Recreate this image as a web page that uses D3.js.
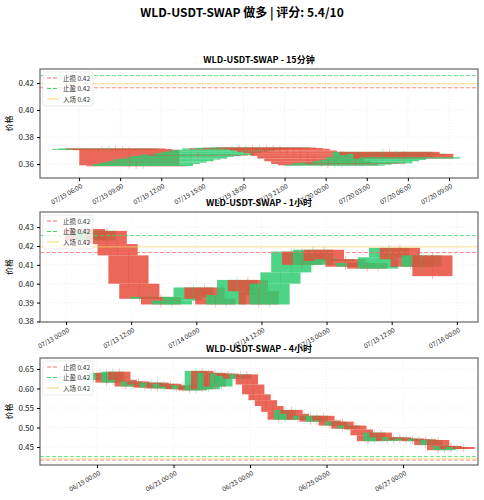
<!DOCTYPE html>
<html>
<head>
<meta charset="utf-8">
<script src="https://d3js.org/d3.v7.min.js"></script>
<style>body{margin:0;background:#fff}text{font-family:"Noto Sans CJK SC","DejaVu Sans",sans-serif}</style>
</head>
<body>
<script>
// price levels
var stopLoss = 0.4165, takeProfit = 0.4255, entry = 0.4195;
var legendLabels = ["止损 0.42", "止盈 0.42", "入场 0.42"];

// 15m panel (closes, 30 min apart)
var close15 = [0.3712,0.3715,0.3710,0.3705,0.3590,0.3585,0.3600,0.3610,0.3620,0.3635,0.3640,0.3655,0.3660,0.3670,0.3665,0.3680,0.3690,0.3700,0.3705,0.3715,0.3710,0.3720,0.3715,0.3722,0.3718,0.3712,0.3700,0.3690,0.3680,0.3660,0.3640,0.3620,0.3600,0.3590,0.3595,0.3605,0.3610,0.3605,0.3620,0.3630,0.3650,0.3690,0.3665,0.3675,0.3640,0.3650];
// 1h panel (closes, 2h apart)
var close1h = [0.423,0.428,0.421,0.415,0.400,0.392,0.393,0.389,0.391,0.393,0.398,0.392,0.389,0.394,0.402,0.396,0.389,0.400,0.406,0.417,0.410,0.418,0.412,0.413,0.409,0.411,0.408,0.414,0.419,0.413,0.409,0.415,0.404];
// 4h panel
var close4h = [0.628,0.640,0.615,0.643,0.622,0.605,0.618,0.610,0.602,0.615,0.600,0.612,0.605,0.598,0.608,0.595,0.645,0.598,0.640,0.605,0.638,0.632,0.625,0.636,0.610,0.585,0.570,0.555,0.540,0.520,0.545,0.535,0.520,0.530,0.515,0.530,0.518,0.505,0.515,0.497,0.505,0.495,0.480,0.465,0.487,0.475,0.466,0.475,0.468,0.472,0.465,0.470,0.455,0.468,0.442,0.453,0.445,0.450,0.445];

var panels = [
  {title:"WLD-USDT-SWAP - 15分钟", closes:close15, open0:0.3712, start:"2024-07-19T07:40", stepH:0.5, widthH:7.3,
   xd:["2024-07-19T03:09","2024-07-20T11:07"], yd:[0.3496,0.4304], yt:[0.36,0.38,0.40,0.42],
   xt:d3.range(10).map(i=>new Date(new Date("2024-07-19T06:00").getTime()+i*3*36e5)), fmt:"%m/%d %H:%M", top:69, bottom:178},
  {title:"WLD-USDT-SWAP - 1小时", closes:close1h, open0:0.4290, start:"2024-07-13T03:30", stepH:2, widthH:7.4,
   xd:["2024-07-12T19:12","2024-07-16T03:54"], yd:[0.3797,0.438], yt:[0.38,0.39,0.40,0.41,0.42,0.43],
   xt:d3.range(7).map(i=>new Date(new Date("2024-07-13T00:00").getTime()+i*12*36e5)), fmt:"%m/%d %H:%M", top:212, bottom:322},
  {title:"WLD-USDT-SWAP - 4小时", closes:close4h, open0:0.622, start:"2024-06-18T22:00", stepH:4, widthH:14,
   xd:["2024-06-17T12:14","2024-06-28T23:00"], yd:[0.404,0.678], yt:[0.45,0.50,0.55,0.60,0.65],
   xt:d3.range(5).map(i=>new Date(new Date("2024-06-19T00:00").getTime()+i*48*36e5)), fmt:"%m/%d %H:%M", top:358, bottom:465}
];

var W = 484, H = 500, left = 40, right = 478;
var svg = d3.select("body").append("svg").attr("width", W).attr("height", H);

svg.append("text").attr("x", W/2).attr("y", 17).attr("text-anchor","middle")
  .attr("font-size", 12).attr("font-weight","bold").text("WLD-USDT-SWAP 做多 | 评分: 5.4/10");

panels.forEach(function(p){
  var x = d3.scaleTime().domain(p.xd.map(s=>new Date(s))).range([left, right]);
  var y = d3.scaleLinear().domain(p.yd).range([p.bottom, p.top]);
  var g = svg.append("g");
  var clipId = "c" + p.top;
  g.append("clipPath").attr("id", clipId).append("rect")
    .attr("x", left).attr("y", p.top).attr("width", right-left).attr("height", p.bottom-p.top);

  svg.append("text").attr("x", (left+right)/2).attr("y", p.top-6).attr("text-anchor","middle")
    .attr("font-size", 9).attr("font-weight","bold").text(p.title);

  // grid
  g.selectAll(".gy").data(p.yt).enter().append("line")
    .attr("x1", left).attr("x2", right).attr("y1", d=>y(d)).attr("y2", d=>y(d))
    .attr("stroke","#ddd").attr("stroke-width",0.5).attr("stroke-dasharray","1,2");
  g.selectAll(".gx").data(p.xt).enter().append("line")
    .attr("y1", p.top).attr("y2", p.bottom).attr("x1", d=>x(d)).attr("x2", d=>x(d))
    .attr("stroke","#ddd").attr("stroke-width",0.5).attr("stroke-dasharray","1,2");

  // candles
  var t0 = new Date(p.start).getTime();
  var candles = p.closes.map(function(c, i){
    var o = i === 0 ? p.open0 : p.closes[i-1];
    return {t:new Date(t0 + i*p.stepH*36e5), o:o, c:c};
  });
  var bw = x(new Date(t0 + p.widthH*36e5)) - x(new Date(t0));
  var cg = g.append("g").attr("clip-path","url(#"+clipId+")");
  cg.selectAll("rect").data(candles).enter().append("rect")
    .attr("x", d=>x(d.t)-bw/2).attr("width", bw)
    .attr("y", d=>y(Math.max(d.o,d.c)))
    .attr("height", d=>Math.max(1, Math.abs(y(d.o)-y(d.c))))
    .attr("fill", d=>d.c>=d.o ? "#2ecc71" : "#e74c3c").attr("opacity",0.85);
  cg.selectAll("line.w").data(candles).enter().append("line")
    .attr("x1", d=>x(d.t)).attr("x2", d=>x(d.t))
    .attr("y1", d=>y(Math.max(d.o,d.c))-3).attr("y2", d=>y(Math.min(d.o,d.c))+3)
    .attr("stroke", d=>d.c>=d.o ? "#2ecc71" : "#e74c3c").attr("stroke-width",0.6).attr("opacity",0.6);

  // levels
  var levels = [{v:stopLoss,c:"#ff6b6b",dash:"4,2"},{v:takeProfit,c:"#3ddc5c",dash:"4,2"},{v:entry,c:"#f5d76e",dash:null}];
  levels.forEach(function(l){
    g.append("line").attr("x1",left).attr("x2",right).attr("y1",y(l.v)).attr("y2",y(l.v))
      .attr("stroke",l.c).attr("stroke-width",1).attr("opacity",0.8).attr("stroke-dasharray",l.dash);
  });

  // legend
  var lg = g.append("g").attr("transform","translate("+(left+3)+","+(p.top+3)+")");
  lg.append("rect").attr("width",50).attr("height",34).attr("fill","#fff").attr("opacity",0.8)
    .attr("stroke","#ccc").attr("stroke-width",0.5).attr("rx",2);
  levels.forEach(function(l,i){
    lg.append("line").attr("x1",4).attr("x2",16).attr("y1",6+i*10.5).attr("y2",6+i*10.5)
      .attr("stroke",l.c).attr("stroke-dasharray",l.dash);
    lg.append("text").attr("x",20).attr("y",8.5+i*10.5).attr("font-size",6.5).attr("fill","#333").text(legendLabels[i]);
  });

  // frame
  g.append("rect").attr("x",left).attr("y",p.top).attr("width",right-left).attr("height",p.bottom-p.top)
    .attr("fill","none").attr("stroke","#666").attr("stroke-width",1.2);

  // axes
  var ya = g.append("g").attr("transform","translate("+left+",0)")
    .call(d3.axisLeft(y).tickValues(p.yt).tickFormat(d3.format(".2f")).tickSize(3));
  ya.select(".domain").remove();
  ya.selectAll("text").attr("font-size",8).attr("fill","#222");
  var xa = g.append("g").attr("transform","translate(0,"+p.bottom+")")
    .call(d3.axisBottom(x).tickValues(p.xt).tickFormat(d3.timeFormat(p.fmt)).tickSize(3));
  xa.select(".domain").remove();
  xa.selectAll("text").attr("font-size",6.5).attr("fill","#222")
    .attr("text-anchor","end").attr("transform","rotate(-30)").attr("dx","-0.3em").attr("dy","0.6em");

  svg.append("text").attr("transform","translate(12,"+((p.top+p.bottom)/2)+") rotate(-90)")
    .attr("text-anchor","middle").attr("font-size",8).text("价格");
});
</script>
</body>
</html>
